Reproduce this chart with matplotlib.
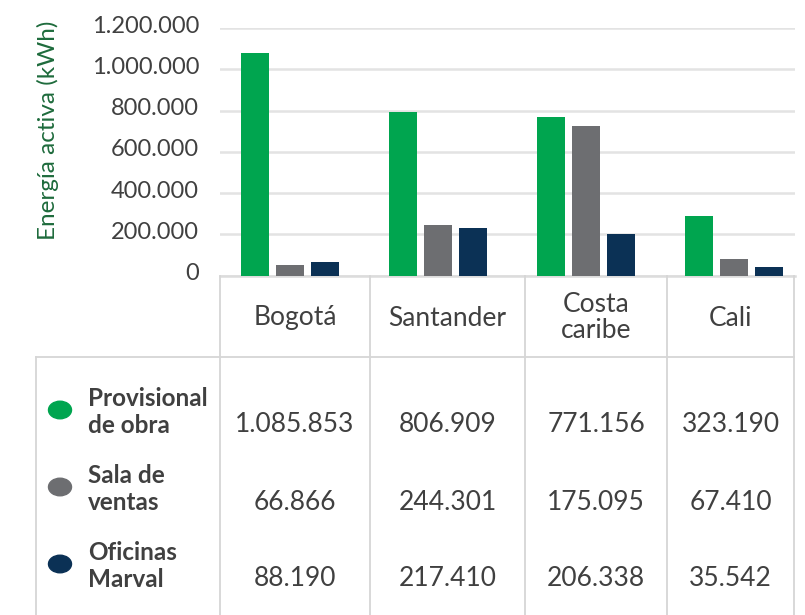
import matplotlib
matplotlib.use("Agg")
import matplotlib.pyplot as plt
import numpy as np
from matplotlib.lines import Line2D
from matplotlib.patches import Circle
from matplotlib.transforms import ScaledTranslation

regiones = ["Bogotá", "Santander", "Costa\ncaribe", "Cali"]
series = ["Provisional\nde obra", "Sala de\nventas", "Oficinas\nMarval"]
colores = ["#00a54f", "#6d6e71", "#0b3155"]

# bar heights as drawn in the chart (kWh)
provisional_barra = [1080000, 794000, 769000, 289000]
sala_barra = [51000, 245000, 726000, 80000]
oficinas_barra = [65000, 231000, 201000, 41000]

# values printed in the table below the chart (kWh)
provisional_tabla = [1085853, 806909, 771156, 323190]
sala_tabla = [66866, 244301, 175095, 67410]
oficinas_tabla = [88190, 217410, 206338, 35542]

yticks = [0, 200000, 400000, 600000, 800000, 1000000, 1200000]

W, H = 805, 615
TEXT = "#404040"
LINE = "#d6d6d6"
FONT = "Lato"


def fx(x):
    return x / W


def fy(y):
    return 1 - y / H


def miles(v):
    return f"{v:,}".replace(",", ".")


plt.rcParams["font.family"] = FONT
fig = plt.figure(figsize=(W / 100, H / 100), dpi=100)
ax = fig.add_axes([fx(220), fy(275.5), fx(795) - fx(220), fy(28.3) - fy(275.5)])

x = np.arange(len(regiones))
off = 35 / 148
ancho = 28 / 148
for i, (vals, col) in enumerate(zip([provisional_barra, sala_barra, oficinas_barra], colores)):
    ax.bar(x + (i - 1) * off, vals, width=ancho, color=col, zorder=3)

ax.set_xlim(-0.47, 3.41)
ax.set_ylim(0, 1200000)
ax.set_yticks(yticks)
ax.set_yticklabels([miles(v) if v else "0" for v in yticks])
ax.set_xticks([])
ax.tick_params(axis="y", length=0, pad=15, labelsize=17, labelcolor=TEXT)
for lab in ax.get_yticklabels():
    lab.set_transform(lab.get_transform() + ScaledTranslation(0, 4 / 100, fig.dpi_scale_trans))
ax.grid(axis="y", color="#e3e3e3", linewidth=1.8, zorder=0)
ax.set_axisbelow(True)
for s in ["top", "right", "left"]:
    ax.spines[s].set_visible(False)
ax.spines["bottom"].set_color("#dcdcdc")
ax.spines["bottom"].set_linewidth(1.8)

fig.text(fx(48), fy(130), "Energía activa (kWh)", rotation=90, ha="center", va="center",
         color="#1e6b3c", fontsize=17.5)

# table grid
cols = [220, 370, 525, 667, 794]


def linea(x0, y0, x1, y1):
    fig.add_artist(Line2D([fx(x0), fx(x1)], [fy(y0), fy(y1)], color=LINE, linewidth=1.3))


for c in cols:
    linea(c, 275.5, c, 615)
linea(36, 357, 794, 357)
linea(36, 357, 36, 615)

centros = [(a + b) / 2 for a, b in zip(cols[:-1], cols[1:])]
for cx, reg in zip(centros, regiones):
    fig.text(fx(cx), fy(318), reg, ha="center", va="center", fontsize=19,
             color=TEXT, linespacing=1.05)

filas_y = [410, 487, 564]
for fila, nombre, col, vals in zip(filas_y, series, colores,
                                   [provisional_tabla, sala_tabla, oficinas_tabla]):
    fig.add_artist(Circle((fx(60), fy(fila)), 11.5 / W, color=col,
                          transform=fig.transFigure))
    fig.text(fx(88), fy(fila + 2), nombre, ha="left", va="center", fontsize=17.5,
             fontweight="bold", color=TEXT, linespacing=1.25)
    for cx, v in zip(centros, vals):
        fig.text(fx(cx), fy(fila + 15), miles(v), ha="center", va="center",
                 fontsize=19, color=TEXT)

fig.savefig("out.png", dpi=100)
